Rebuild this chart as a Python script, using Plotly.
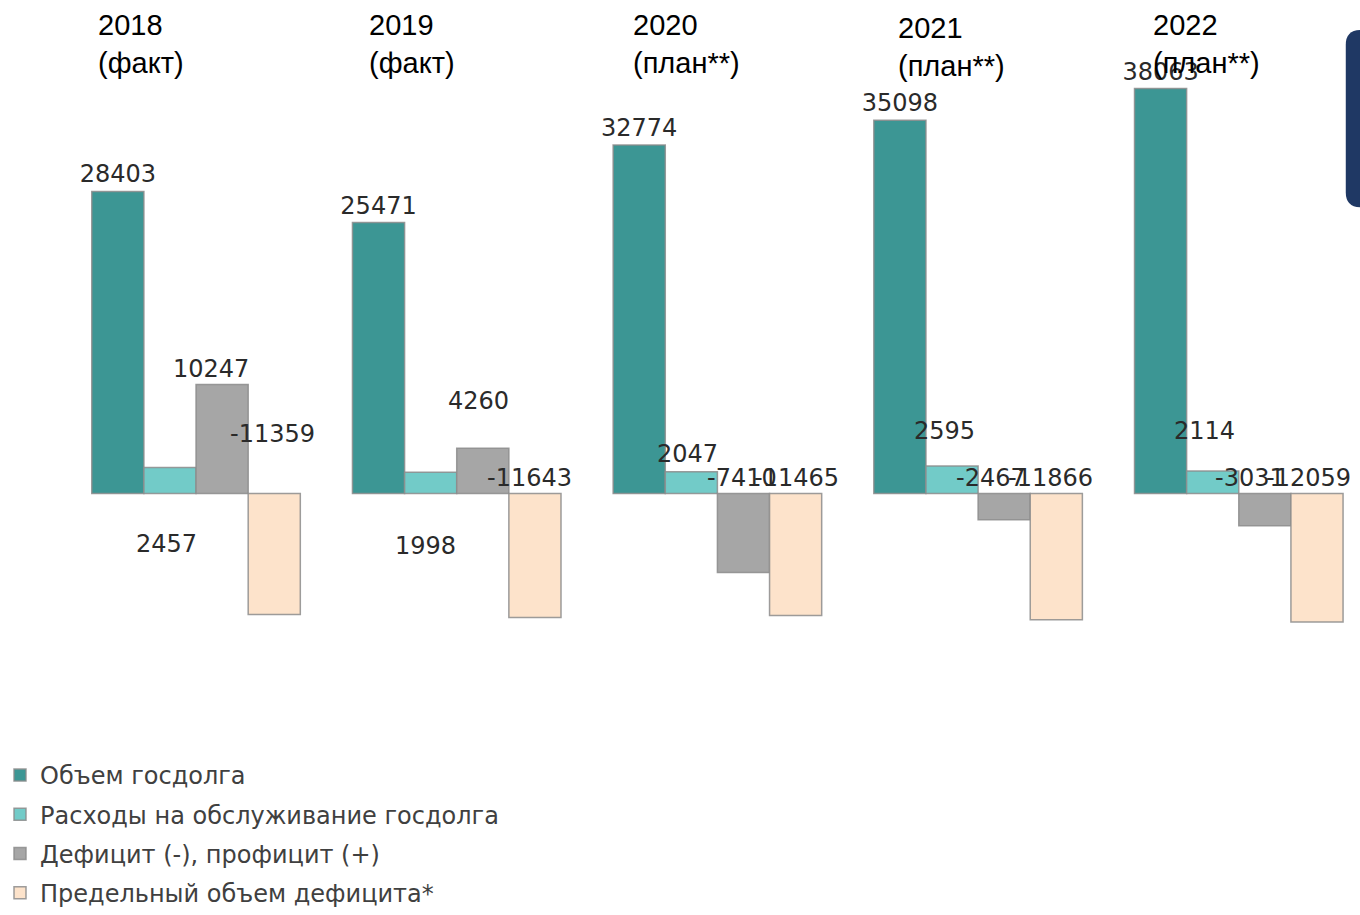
import plotly.graph_objects as go

# ---- data ----
years = ["2018", "2019", "2020", "2021", "2022"]
year_notes = ["(факт)", "(факт)", "(план**)", "(план**)", "(план**)"]
series_names = [
    "Объем госдолга",
    "Расходы на обслуживание госдолга",
    "Дефицит (-), профицит (+)",
    "Предельный объем дефицита*",
]
debt = [28403, 25471, 32774, 35098, 38063]
service = [2457, 1998, 2047, 2595, 2114]
balance = [10247, 4260, -7410, -2467, -3031]
limit = [-11359, -11643, -11465, -11866, -12059]

# ---- style ----
colors = ["#3C9694", "#72CBC8", "#A6A6A6", "#FDE3CB"]
border = "rgba(140,140,140,0.85)"
label_font = dict(family="DejaVu Sans", size=24, color="#2a2a2a")

# label placement (pixel shift from zero line) for non-outside labels, as in original
label_dy = {
    1: [-50, -52, 40, 63, 63],
    2: [125, 93, 16, 16, 16],
    3: [60, 16, 16, 16, 16],
}
label_dx = {
    1: [-3, -5, -4, -8, -8],
    2: [-11, -4, -1, -13, -15],
    3: [-2, -5, 1, -6, -8],
}
year_dx = [-100, -90, -86, -82, -88]
year_dy = [-7, -7, -7, -10, -7]

all_vals = [debt, service, balance, limit]

fig = go.Figure()
for k, (name, vals) in enumerate(zip(series_names, all_vals)):
    kw = {}
    if k == 0:
        kw = dict(text=[str(v) for v in vals], textposition="outside",
                  textfont=label_font, constraintext="none", cliponaxis=False)
    fig.add_trace(go.Bar(
        x=years, y=vals, name=name, legendgroup=f"g{k}",
        marker=dict(color=colors[k], line=dict(color=border, width=1.5)),
        **kw,
    ))

annotations = []
for k in (1, 2, 3):
    vals = all_vals[k]
    for i, v in enumerate(vals):
        annotations.append(dict(
            x=i + (k - 1.5) * 0.2, y=0, xref="x", yref="y",
            text=str(v), showarrow=False, font=label_font,
            xanchor="center", yanchor="middle",
            xshift=label_dx[k][i], yshift=label_dy[k][i],
        ))

for i, (yr, note) in enumerate(zip(years, year_notes)):
    annotations.append(dict(
        x=i, y=1, xref="x", yref="paper",
        text=f"{yr}<br>{note}", showarrow=False, align="left",
        xanchor="left", yanchor="top", xshift=year_dx[i], yshift=year_dy[i],
        font=dict(family="Liberation Sans, Arial", size=29, color="#000000"),
    ))

# dark blue rounded panel at top right edge
x0, x1, yt, yb = 0.989, 1.03, 0.957, 0.703
rx, ry = 0.0115, 0.0214
path = (f"M {x0+rx},{yt} L {x1},{yt} L {x1},{yb} L {x0+rx},{yb} "
        f"Q {x0},{yb} {x0},{yb+ry} L {x0},{yt-ry} Q {x0},{yt} {x0+rx},{yt} Z")

fig.update_layout(
    width=1360, height=915,
    margin=dict(l=60, r=0, t=0, b=215),
    paper_bgcolor="white", plot_bgcolor="white",
    barmode="group", bargap=0.2, bargroupgap=0,
    xaxis=dict(range=[-0.495, 4.465], showticklabels=False, showgrid=False,
               zeroline=False, showline=False),
    yaxis=dict(range=[-19213, 46392], showticklabels=False, showgrid=False,
               zeroline=False, showline=False),
    showlegend=True,
    legend=dict(orientation="v", x=-0.052, xanchor="left", y=-0.0794,
                yanchor="top", font=dict(family="DejaVu Sans", size=24, color="#404040"),
                tracegroupgap=5, traceorder="grouped", bgcolor="rgba(0,0,0,0)"),
    annotations=annotations,
    shapes=[dict(type="path", path=path, xref="paper", yref="paper",
                 fillcolor="#1F3864", line=dict(width=0), layer="above")],
)

fig.write_html(
    "out.html",
    config={"displayModeBar": False},
    post_script="document.body.style.margin='0';document.body.style.overflow='hidden';",
)
